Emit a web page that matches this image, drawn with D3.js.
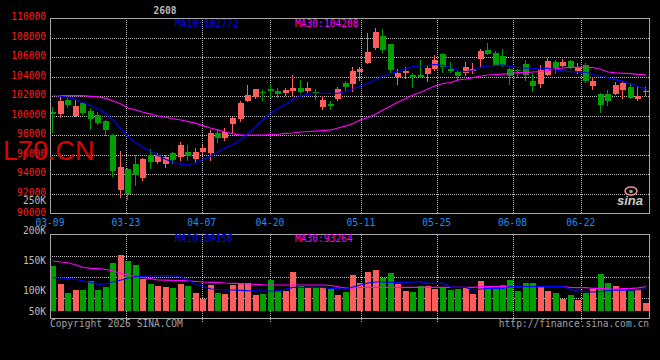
<!DOCTYPE html>
<html><head><meta charset="utf-8">
<script src="https://cdn.jsdelivr.net/npm/d3@7/dist/d3.min.js"></script>
<style>html,body{margin:0;padding:0;background:#000;} svg{display:block;}</style>
</head><body>
<svg id="c" width="660" height="360"></svg>
<script>
const title = "2608";
const dates = ["03-09","03-10","03-11","03-12","03-13","03-16","03-17","03-18","03-19","03-20",
"03-23","03-24","03-25","03-26","03-27","03-30","03-31","04-01","04-02","04-03",
"04-07","04-08","04-09","04-10","04-13","04-14","04-15","04-16","04-17","04-20",
"04-21","04-22","04-23","04-24","04-27","04-28","04-29","04-30","05-06","05-07",
"05-08","05-11","05-12","05-13","05-14","05-15","05-18","05-19","05-20","05-21",
"05-22","05-25","05-26","05-27","05-28","05-29","06-01","06-02","06-03","06-04",
"06-05","06-08","06-09","06-10","06-11","06-12","06-15","06-16","06-17","06-18",
"06-22","06-23","06-24","06-25","06-26","06-29","06-30","07-01","07-02","07-03"];
const open = [100370,100190,101600,99990,101350,100530,100050,99500,98050,92400,
94550,95070,93600,96000,95300,95070,96170,95820,96330,95580,
96270,96170,98220,97700,99170,99650,101530,101900,102480,102760,
102580,102380,102550,102830,102550,102480,100880,101220,101730,103400,
103270,104530,105390,106990,108190,107370,104020,104430,104190,104190,
104290,104800,106340,104770,104530,104360,104630,105830,106750,106480,
106140,104800,104700,105310,103580,103270,104190,105520,105110,105620,
104600,105210,103100,102240,102240,102210,102650,102990,101730,102450];
const high = [100950,101900,101900,101630,101450,100800,100450,99600,98100,96400,
94700,96000,95650,96600,96200,96000,96330,97360,97020,96680,
97020,98560,98560,98790,99920,101530,103170,102800,102650,103270,
102830,102830,104190,103680,103500,102760,102040,101530,102990,103580,
105040,105040,108460,108970,108870,107400,104770,105040,104360,105730,
105210,106240,106400,105560,104700,105560,105390,106820,107500,106680,
106850,104900,104800,105730,104360,105210,105960,105730,105830,105730,
105450,105380,104020,102300,102650,103500,103500,103400,102990,102990];
const low = [98380,99900,100950,99950,100150,98700,99200,98050,93800,91700,
91450,92900,93450,94650,95150,94730,95140,95480,95480,95310,
96170,95480,97360,97530,98380,99510,101500,101850,101630,101900,
101900,102140,102040,102350,102500,101730,100680,100680,101630,102650,
102550,103680,105390,106820,106580,104530,103270,103850,102990,103950,
103610,104750,104530,104500,103680,104190,104360,105040,106300,105210,
105150,103270,104020,103680,102580,102990,104190,104430,105110,104900,
104360,103500,102760,100430,101120,102210,101800,101800,101630,102140];
const close = [100200,101550,101100,101010,100270,99650,99240,98560,94400,94750,
92000,93950,95550,95300,96000,95760,95480,97020,95920,96330,
96680,98220,97700,98380,99750,101290,102140,102760,102310,102550,
102240,102650,102830,102420,102830,102310,101630,101050,102760,102990,
104600,104770,106520,108630,106750,104700,104430,104630,104020,104000,
104880,105730,105040,104630,104120,105040,104770,106680,106340,105210,
105210,104120,104600,104190,103060,104700,105620,104880,105560,104940,
105040,103580,103580,101120,101550,103170,103340,101800,102070,102580];
const ma10 = [102140,102010,101890,101680,101370,101070,100710,100250,99580,98710,
97840,97220,96760,96350,95940,95530,95250,95020,94970,95230,
95530,95890,96300,96710,97070,97580,98200,98910,99630,100300,
100760,101220,101680,102040,102240,102320,102320,102320,102320,102500,
102760,103060,103370,103730,104060,104340,104550,104860,105060,105140,
105140,105270,105160,104960,104600,104530,104650,105010,105110,105180,
105220,105060,104960,104880,104880,104880,104860,104700,104600,104530,
104500,104470,104240,104060,103910,103710,103530,103270,103010,102772];
const ma30 = [102070,102070,102070,102070,102070,102010,101940,101800,101530,101220,
100810,100600,100370,100190,99990,99860,99710,99580,99410,99240,
99000,98730,98560,98350,98150,98040,98040,98040,98040,98090,
98120,98200,98250,98350,98400,98450,98500,98560,98760,98970,
99220,99580,99840,100200,100600,101010,101420,101780,102140,102450,
102760,103060,103320,103420,103680,103780,103930,104090,104190,104240,
104290,104340,104430,104430,104500,104550,104650,104840,104910,104980,
104980,104980,104960,104750,104500,104400,104370,104340,104260,104208];
const volume = [127800,97800,83300,87800,87800,102800,87800,92300,133300,146700,
136200,129500,106700,98300,95000,93300,91700,98300,94500,83300,
73300,96200,83300,81700,96200,99000,99000,79500,81700,104500,
86700,86700,118300,94500,91700,91700,93300,89700,78700,84500,
112800,100000,117800,121200,108300,116200,97800,86200,84500,94500,
94500,89000,90700,87800,89000,92300,81200,102800,93300,89000,
96200,104500,86700,100000,100000,93300,86700,83300,72800,78700,
71200,82300,90000,115000,100000,94500,90000,86700,89000,66700];
const vma10 = [108300,107800,107300,105300,102800,100300,97300,98200,101200,104500,
107800,110000,110700,111200,111500,111700,111500,109500,104500,97000,
93700,89500,88700,87800,87800,87300,86700,86500,86200,86200,
86200,89500,92300,92300,92300,92300,92300,90700,90000,89500,
92800,96200,99500,101200,101200,100700,100700,100700,101200,101700,
99000,99000,99000,92300,92300,92300,87800,89500,90700,90700,
90700,93300,93300,93300,93300,93300,93300,93300,93300,89000,
86200,85000,84500,85300,87000,87800,87500,87800,88400,89156];
const vma30 = [136200,134500,133300,129500,125300,124000,123300,122000,119500,115700,
112800,110000,108300,106700,104500,104200,103800,103500,103200,102000,
101200,100700,100200,99500,99000,98500,97800,97300,96500,96200,
96200,96200,96200,96200,96200,96200,96200,95300,93300,91200,
91200,92300,92300,92300,92300,92300,92300,92300,92300,92300,
92300,92300,92300,92300,92300,92300,92300,93300,93300,93300,
93300,93300,93300,93300,93300,93300,93300,93300,93300,92000,
91700,91700,90700,90700,89500,89500,90000,90500,91500,93264];
const xTickLabels = ["03-09","03-23","04-07","04-20","05-11","05-25","06-08","06-22"];
const priceTicks = [90000,92000,94000,96000,98000,100000,102000,104000,106000,108000,110000];
const volTicks = [50000,100000,150000,200000,250000];
const volTickLabels = ["50K","100K","150K","200K","250K"];
const legendMain = ["MA10:102772","MA30:104208"];
const legendVol = ["MA10:89156","MA30:93264"];
const watermark = "L70.CN";
const footerLeft = "Copyright 2026 SINA.COM";
const footerRight = "http://finance.sina.com.cn";

const svg = d3.select("#c");
const MONO = "'DejaVu Sans Mono', 'Liberation Mono', monospace";
const RED = "#ff5c5c", GREEN = "#00a000";
const n = dates.length;
const L = 50, R = 649, PT = 18.3, PB = 213.5, VT = 234.5, VB = 318.5, VBASE = 311;

const xSlot = d3.scaleLinear().domain([0, n]).range([50, 650]);
const xGrid = d3.scaleLinear().domain([0, n - 1]).range([L, R]);
const yP = d3.scaleLinear().domain([90000, 110000]).range([PB, PT]);
const yV = d3.scaleLinear().domain([50000, 200000]).range([312.7, 222.7]);

svg.append("rect").attr("width", 660).attr("height", 360).attr("fill", "#000");

const tickIdx = xTickLabels.map(t => dates.indexOf(t));
const grid = svg.append("g").attr("stroke", "#bdbdbd").attr("stroke-dasharray", "1,1").attr("shape-rendering", "crispEdges");
// main horizontal grid
priceTicks.filter(v => v > 90000 && v < 110000).forEach(v => {
  const y = Math.round(yP(v)) + 0.5;
  grid.append("line").attr("x1", L).attr("x2", R).attr("y1", y).attr("y2", y);
});
// vertical grid
tickIdx.slice(1).forEach(i => {
  const x = Math.round(xGrid(i)) + 0.5;
  grid.append("line").attr("x1", x).attr("x2", x).attr("y1", PT).attr("y2", PB);
  grid.append("line").attr("x1", x).attr("x2", x).attr("y1", VT).attr("y2", VB + 3);
});
// volume horizontal grid (quarters)
[1, 2, 3].forEach(k => {
  const y = Math.round(VT + (VB - VT) * k / 4) + 0.5;
  grid.append("line").attr("x1", L).attr("x2", R).attr("y1", y).attr("y2", y);
});

// candles
const cg = svg.append("g").attr("shape-rendering", "crispEdges");
d3.range(n).forEach(i => {
  const o = open[i], c = close[i], up = c >= o;
  const col = up ? RED : GREEN;
  const left = Math.round(xSlot(i));
  const wx = left + 2.5;
  cg.append("line").attr("x1", wx).attr("x2", wx)
    .attr("y1", Math.round(yP(high[i]))).attr("y2", Math.round(yP(low[i])) + 1)
    .attr("stroke", col);
  const top = Math.round(yP(Math.max(o, c)));
  const bot = Math.round(yP(Math.min(o, c)));
  cg.append("rect").attr("x", left).attr("y", top).attr("width", 6)
    .attr("height", Math.max(1, bot - top)).attr("fill", col);
});

// volume bars
const vg = svg.append("g").attr("shape-rendering", "crispEdges");
d3.range(n).forEach(i => {
  const up = close[i] >= open[i];
  const left = Math.round(xSlot(i));
  const top = Math.round(yV(volume[i]));
  vg.append("rect").attr("x", left).attr("y", top).attr("width", 6)
    .attr("height", VBASE - top).attr("fill", up ? RED : GREEN);
});

// MA lines
const lineP = d3.line().x((d, i) => Math.round(xSlot(i)) + 3).y(d => yP(d));
const lineV = d3.line().x((d, i) => Math.round(xSlot(i)) + 3).y(d => yV(d));
svg.append("path").attr("d", lineP(ma30)).attr("fill", "none").attr("stroke", "#ff00ff").attr("stroke-width", 1.2);
svg.append("path").attr("d", lineP(ma10)).attr("fill", "none").attr("stroke", "#0000ff").attr("stroke-width", 1.2);
svg.append("path").attr("d", lineV(vma30)).attr("fill", "none").attr("stroke", "#ff00ff").attr("stroke-width", 1.2);
svg.append("path").attr("d", lineV(vma10)).attr("fill", "none").attr("stroke", "#0000ff").attr("stroke-width", 1.2);

// frames
svg.append("rect").attr("x", L + 0.5).attr("y", 18.5).attr("width", R - L).attr("height", 195)
  .attr("fill", "none").attr("stroke", "#a8a8a8").attr("shape-rendering", "crispEdges");
svg.append("rect").attr("x", L + 0.5).attr("y", VT).attr("width", R - L).attr("height", VB - VT)
  .attr("fill", "none").attr("stroke", "#a8a8a8").attr("shape-rendering", "crispEdges");

const txt = (x, y, s, fill, anchor) => svg.append("text").attr("x", x).attr("y", y).text(s)
  .attr("fill", fill).attr("font-family", MONO).attr("font-size", "9.6px")
  .attr("text-anchor", anchor || "start").attr("dominant-baseline", "central");

// price labels
priceTicks.forEach(v => txt(46, yP(v) - 1.5, String(v), "#ff1a1a", "end"));
// volume labels
volTicks.forEach((v, k) => txt(46, Math.min(311, yV(v) + 8), volTickLabels[k], "#bcbcbc", "end"));
// x labels
xTickLabels.forEach((t, k) => txt(xGrid(tickIdx[k]), 222, t, "#1e8cf0", "middle"));
// legends
txt(175, 23.5, legendMain[0], "#0000ff");
txt(295, 23.5, legendMain[1], "#ff00ff");
txt(175, 238.5, legendVol[0], "#0000ff");
txt(295, 238.5, legendVol[1], "#ff00ff");
// title
txt(165, 10, title, "#b8b8b8", "middle").attr("font-weight", "bold");
// footer
txt(50, 323.5, footerLeft, "#a0a0a0");
txt(649, 323.5, footerRight, "#a0a0a0", "end");

// watermark
svg.append("text").attr("x", 3).attr("y", 159.5).text(watermark)
  .attr("fill", "#dd0000").attr("font-family", "'Liberation Sans', Arial, sans-serif").attr("font-size", "27px");

// sina logo
const lg = svg.append("g");
lg.append("ellipse").attr("cx", 631).attr("cy", 191).attr("rx", 6).attr("ry", 4)
  .attr("fill", "none").attr("stroke", "#f09090").attr("stroke-width", 1.5);
lg.append("circle").attr("cx", 631).attr("cy", 191.5).attr("r", 1.8).attr("fill", "#a0a0a0");
lg.append("text").attr("x", 617).attr("y", 205).text("sina")
  .attr("fill", "#c8c8c8").attr("font-family", "'Liberation Sans', Arial, sans-serif")
  .attr("font-size", "13px").attr("font-weight", "bold").attr("font-style", "italic");
</script>
</body></html>
